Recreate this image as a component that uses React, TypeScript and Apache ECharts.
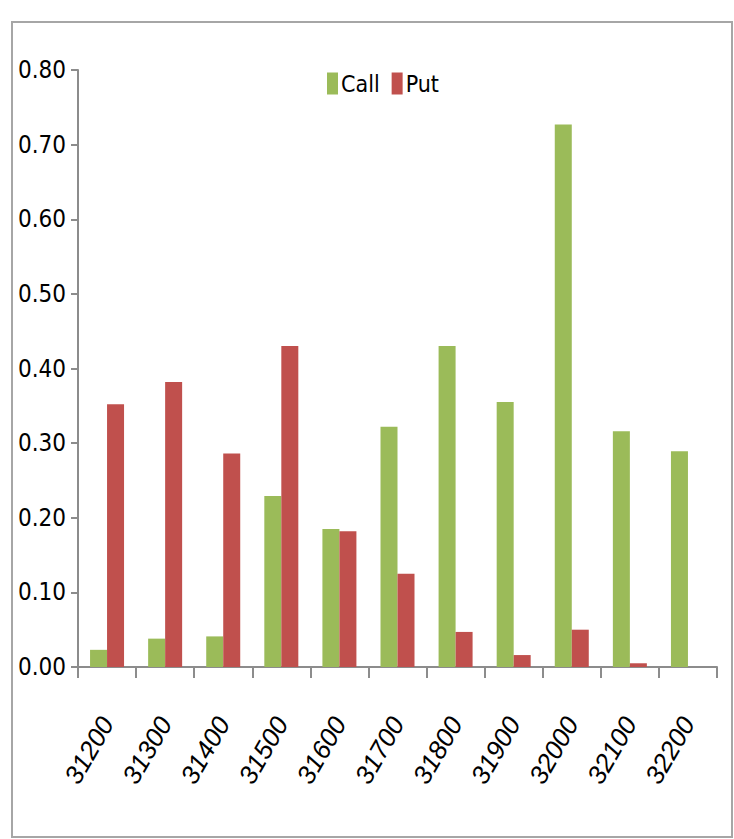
import React, { useEffect, useRef } from "react";
import * as echarts from "echarts";

const categories = ["31200", "31300", "31400", "31500", "31600", "31700", "31800", "31900", "32000", "32100", "32200"];
const callValues = [0.023, 0.038, 0.041, 0.229, 0.185, 0.322, 0.430, 0.355, 0.727, 0.316, 0.289];
const putValues = [0.352, 0.382, 0.286, 0.430, 0.182, 0.125, 0.047, 0.016, 0.050, 0.005, 0];

const FONT = "'DejaVu Sans Condensed', 'Liberation Sans Narrow', sans-serif";

export default function App() {
  const ref = useRef<HTMLDivElement>(null);
  useEffect(() => {
    if (!ref.current) return;
    const chart = echarts.init(ref.current, null, { renderer: "svg" });
    chart.setOption({
      animation: false,
      backgroundColor: "#ffffff",
      graphic: [
        {
          type: "rect",
          shape: { x: 12, y: 22, width: 720, height: 815 },
          style: { fill: "none", stroke: "#a6a6a6", lineWidth: 2 },
          silent: true,
          z: -1,
        },
      ],
      legend: {
        top: 67,
        left: 322,
        itemWidth: 11,
        itemHeight: 22,
        itemGap: 12,
        icon: "rect",
        textStyle: { fontFamily: FONT, fontSize: 23, color: "#000", padding: [0, 0, 0, -2] },
        data: ["Call", "Put"],
      },
      grid: { left: 78, right: 17, top: 70, bottom: 172, containLabel: false },
      xAxis: {
        type: "category",
        data: categories,
        axisLine: { lineStyle: { color: "#8c8c8c", width: 2 } },
        axisTick: { show: true, length: 11, lineStyle: { color: "#8c8c8c", width: 2 } },
        axisLabel: {
          rotate: 60,
          margin: 52,
          interval: 0,
          fontFamily: "'Liberation Sans', 'DejaVu Sans', sans-serif",
          fontStyle: "italic",
          fontSize: 26,
          color: "#000",
        },
      },
      yAxis: {
        type: "value",
        min: 0,
        max: 0.8,
        interval: 0.1,
        splitLine: { show: false },
        axisLine: { show: true, lineStyle: { color: "#8c8c8c", width: 2 } },
        axisTick: { show: true, length: 7, lineStyle: { color: "#8c8c8c", width: 2 } },
        axisLabel: {
          margin: 12,
          fontFamily: FONT,
          fontSize: 24,
          color: "#000",
          formatter: (v: number) => v.toFixed(2),
        },
      },
      series: [
        {
          name: "Call",
          type: "bar",
          data: callValues,
          barWidth: 17,
          barGap: "0%",
          itemStyle: { color: "#9bbb59" },
        },
        {
          name: "Put",
          type: "bar",
          data: putValues,
          barWidth: 17,
          barGap: "0%",
          itemStyle: { color: "#c0504d" },
        },
      ],
    });
    return () => chart.dispose();
  }, []);
  return <div ref={ref} style={{ width: 734, height: 839, position: "absolute", left: 0, top: 0 }} />;
}
